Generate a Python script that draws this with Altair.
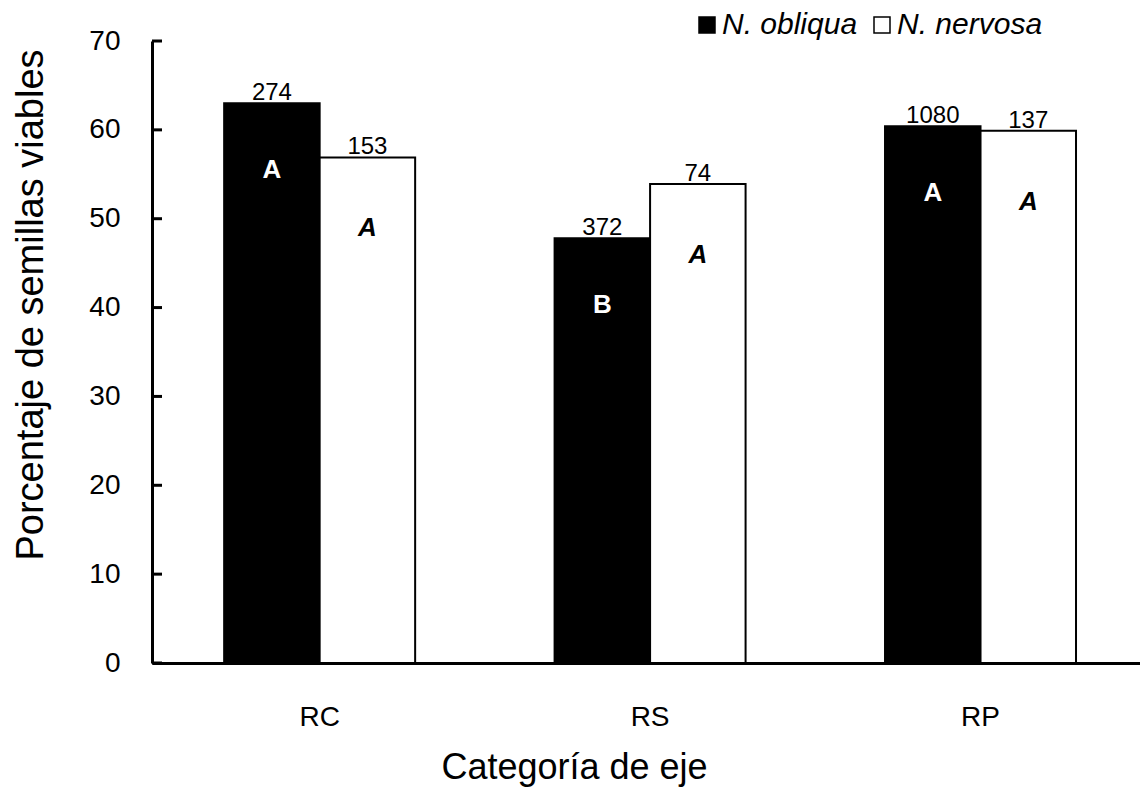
import altair as alt
import pandas as pd

categories = ["RC", "RS", "RP"]
series = ["N. obliqua", "N. nervosa"]
obliqua = [63.0, 47.8, 60.4]
nervosa = [56.9, 53.9, 59.9]
obliqua_n = ["274", "372", "1080"]
nervosa_n = ["153", "74", "137"]
obliqua_letters = ["A", "B", "A"]
nervosa_letters = ["A", "A", "A"]
y_ticks = [0, 10, 20, 30, 40, 50, 60, 70]

rows = []
for i, c in enumerate(categories):
    rows.append({"cat": c, "serie": series[0], "val": obliqua[i], "n": obliqua_n[i], "letter": obliqua_letters[i]})
    rows.append({"cat": c, "serie": series[1], "val": nervosa[i], "n": nervosa_n[i], "letter": nervosa_letters[i]})
df = pd.DataFrame(rows)
ticks_df = pd.DataFrame({"val": y_ticks})

FONT = "Liberation Sans"

x = alt.X("cat:N", sort=categories,
          scale=alt.Scale(paddingInner=0.422, paddingOuter=0.206, align=0.53),
          axis=alt.Axis(title="Categoría de eje", labelAngle=0, ticks=False, tickSize=0,
                        labelFontSize=28, labelPadding=40, titleFontSize=36,
                        titleFontWeight="normal", titleX=422, titleY=115,
                        titleBaseline="alphabetic", titleAlign="center",
                        domainWidth=3, domainColor="black", labelColor="black",
                        titleColor="black"))
xo = alt.XOffset("serie:N", sort=series, scale=alt.Scale(paddingInner=0, paddingOuter=0))
yscale = alt.Scale(domain=[0, 70], nice=False)
y = alt.Y("val:Q", scale=yscale,
          axis=alt.Axis(title="Porcentaje de semillas viables", values=y_ticks,
                        grid=False, labelFontSize=28, labelPadding=32, ticks=False, tickSize=0,
                        domainWidth=3, domainColor="black",
                        titleFontSize=38, titleFontWeight="normal", titleX=-110, titleY=263.5,
                        titleBaseline="alphabetic", titleAlign="center",
                        labelColor="black", titleColor="black"))

bars = alt.Chart(df).mark_bar(stroke="black", strokeWidth=2).encode(
    x=x, xOffset=xo, y=y,
    fill=alt.Fill("serie:N", sort=series,
                  scale=alt.Scale(domain=series, range=["black", "white"]),
                  legend=alt.Legend(title=None, orient="none", direction="horizontal",
                                    legendX=540, legendY=-31, symbolType="square",
                                    symbolSize=256, symbolStrokeColor="black",
                                    symbolStrokeWidth=1.5, labelFontSize=30,
                                    labelFontStyle="italic", labelOffset=0,
                                    columnPadding=9, labelColor="black")),
)

tick_marks = alt.Chart(ticks_df).mark_rule(color="black", strokeWidth=3).encode(
    x=alt.value(0), x2=alt.value(10), y=y)

counts = alt.Chart(df).mark_text(fontSize=24, baseline="alphabetic", dy=-3, font=FONT, color="black").encode(
    x=x, xOffset=xo, y=y, text="n:N")

let_ob = alt.Chart(df).transform_filter(alt.datum.serie == series[0]).mark_text(
    fontSize=26, fontWeight="bold", color="white", baseline="alphabetic", dy=75, font=FONT).encode(
    x=x, xOffset=xo, y=y, text="letter:N")

let_ne = alt.Chart(df).transform_filter(alt.datum.serie == series[1]).mark_text(
    fontSize=26, fontWeight="bold", fontStyle="italic", color="black", baseline="alphabetic", dy=79, font=FONT).encode(
    x=x, xOffset=xo, y=y, text="letter:N")

chart = alt.layer(bars, tick_marks, counts, let_ob, let_ne).properties(
    width=988, height=622,
    autosize=alt.AutoSizeParams(type="none"),
    padding={"left": 152, "top": 41, "right": 0, "bottom": 129},
).configure(font=FONT).configure_view(stroke=None)

chart.save("out.html", embed_options={"renderer": "svg", "actions": False})
